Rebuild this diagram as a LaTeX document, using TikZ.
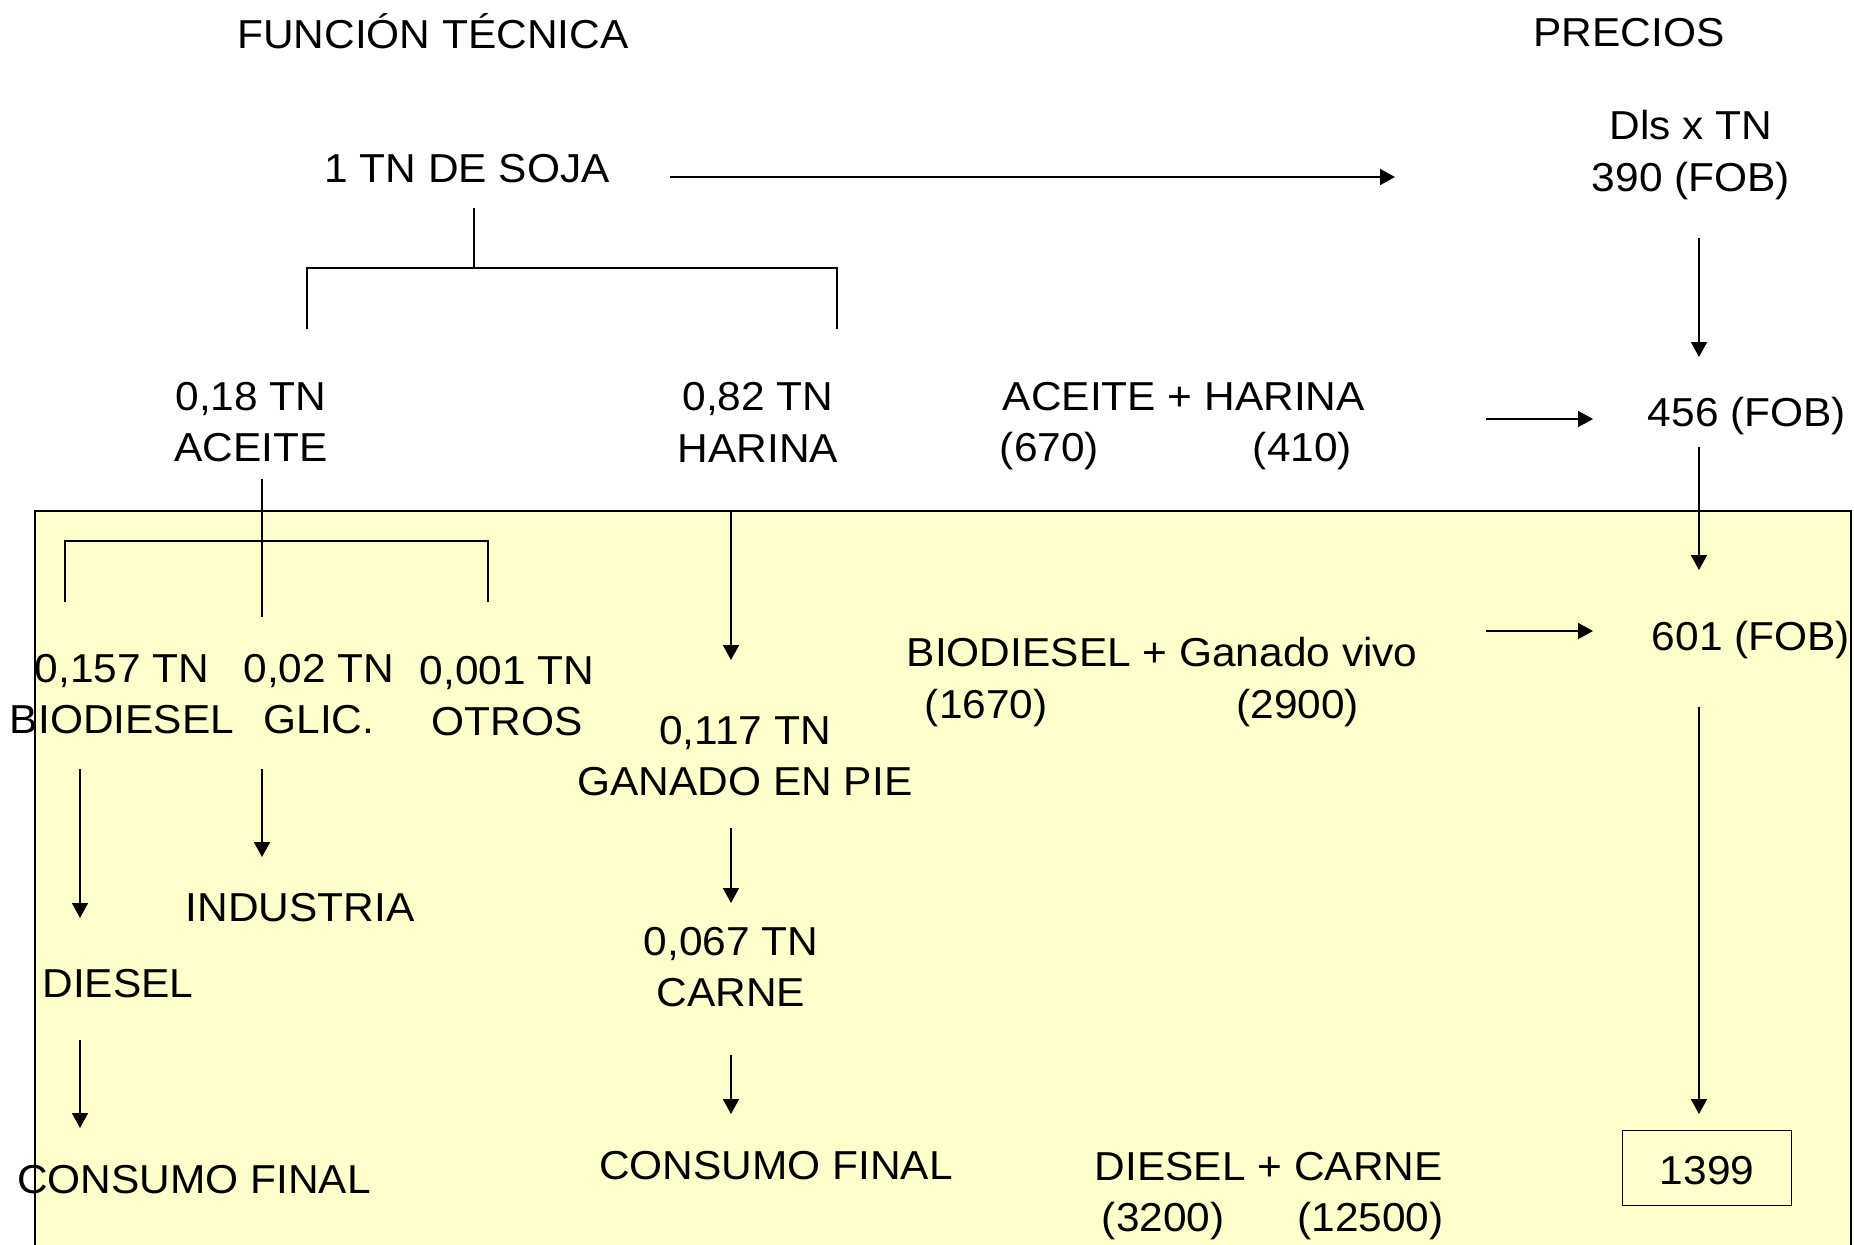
\documentclass[tikz,border=0pt]{standalone}
\usepackage{fontspec}
\setmainfont{Liberation Sans}[FakeStretch=1.05]
\usetikzlibrary{arrows.meta}
\definecolor{boxyellow}{RGB}{255,255,204}
\newcommand{\slide}{\fontsize{23}{29.5}\selectfont}
\tikzset{next/.style={-{Triangle[length=0.3cm, width=0.32cm]}}}
\tikzset{txt/.style={inner sep=0pt, font=\slide, align=center}}
\tikzset{txtl/.style={inner sep=0pt, font=\slide, align=left, anchor=west}}

\begin{document}
\begin{tikzpicture}[x=0.02cm, y=-0.02cm, line width=1pt]
  \useasboundingbox (0,0) rectangle (1854,1245);

  % yellow area
  \fill[boxyellow] (35,511) rectangle (1851,1260);

  % --- headings ---
  \node[txt] (func) at (433,31) {FUNCIÓN TÉCNICA};
  \node[txt] (precios) at (1629,33) {PRECIOS};

  % --- soja and its prices ---
  \node[txt] (soja) at (467,169) {1 TN DE SOJA};
  \node[txt] (dls) at (1691,155) {Dls x TN\\390 (FOB)};
  \coordinate (sojaOut) at (670,177);
  \coordinate (dlsIn) at (1395,177);
  \draw[next] (sojaOut) -- (dlsIn);

  % --- first split ---
  \node[txt] (aceite) at (251,422) {0,18 TN\\ACEITE};
  \node[txt] (harina) at (758,422) {0,82 TN\\HARINA};
  \coordinate (sojaStem) at (474,208);
  \coordinate (splitA) at (474,268);
  \draw (sojaStem) -- (splitA);
  \draw (307,329) -- (307,268) -- (837,268) -- (837,329);

  \node[txtl] (ah) at (999,426) {\hspace*{0.06cm}ACEITE + HARINA\\(670)\hspace{3.08cm}(410)};
  \node[txt] (p456) at (1747,416) {456 (FOB)};
  \coordinate (ahOut) at (1486,419);
  \coordinate (p456In) at (1593,419);
  \draw[next] (ahOut) -- (p456In);
  \coordinate (dlsOut) at (1699,238);
  \coordinate (p456Top) at (1699,357);
  \draw[next] (dlsOut) -- (p456Top);

  % --- second split: aceite ---
  \node[txt] (bio) at (122,694) {0,157 TN\\BIODIESEL};
  \node[txt] (glic) at (319,694) {0,02 TN\\GLIC.};
  \node[txt] (otros) at (507,696) {0,001 TN\\OTROS};
  \coordinate (aceiteStem) at (262,479);
  \coordinate (glicIn) at (262,617);
  \draw (aceiteStem) -- (glicIn);
  \draw (65,602) -- (65,541) -- (488,541) -- (488,602);

  % --- harina to ganado ---
  \node[txt] (ganado) at (745,756) {0,117 TN\\GANADO EN PIE};
  \coordinate (harinaOut) at (731,511);
  \coordinate (ganadoIn) at (731,660);
  \draw[next] (harinaOut) -- (ganadoIn);

  \node[txtl] (bg) at (906,682) {BIODIESEL + Ganado vivo\\\hspace*{0.36cm}(1670)\hspace{3.78cm}(2900)};
  \node[txt] (p601) at (1751,640) {601 (FOB)};
  \coordinate (bgOut) at (1486,631);
  \coordinate (p601In) at (1593,631);
  \draw[next] (bgOut) -- (p601In);
  \coordinate (p456Out) at (1699,447);
  \coordinate (p601Top) at (1699,570);
  \draw[next] (p456Out) -- (p601Top);

  % --- final products ---
  \node[txt] (diesel) at (118,984) {DIESEL};
  \node[txt] (cfA) at (194,1180) {CONSUMO FINAL};
  \node[txt] (industria) at (300,908) {INDUSTRIA};
  \node[txt] (carne) at (731,967) {0,067 TN\\CARNE};
  \node[txt] (cfB) at (776,1166) {CONSUMO FINAL};
  \node[txtl] (dc) at (1094,1196) {DIESEL + CARNE\\\hspace*{0.14cm}(3200)\hspace{1.46cm}(12500)};
  \node[draw, minimum width=3.38cm, minimum height=1.5cm] (p1399) at (1707,1168) {};
  \node[txt] (v1399) at (1707,1171) {1399};

  \coordinate (bioOut) at (80,769);
  \coordinate (dieselIn) at (80,918);
  \draw[next] (bioOut) -- (dieselIn);
  \coordinate (dieselOut) at (80,1040);
  \coordinate (cfAIn) at (80,1128);
  \draw[next] (dieselOut) -- (cfAIn);
  \coordinate (glicOut) at (262,769);
  \coordinate (industriaIn) at (262,857);
  \draw[next] (glicOut) -- (industriaIn);
  \coordinate (ganadoOut) at (731,828);
  \coordinate (carneIn) at (731,903);
  \draw[next] (ganadoOut) -- (carneIn);
  \coordinate (carneOut) at (731,1055);
  \coordinate (cfBIn) at (731,1114);
  \draw[next] (carneOut) -- (cfBIn);
  \coordinate (p601Out) at (1699,707);
  \coordinate (p1399In) at (1699,1114);
  \draw[next] (p601Out) -- (p1399In);

  % border over the texts
  \draw (35,1260) -- (35,511) -- (1851,511) -- (1851,1260);
\end{tikzpicture}
\end{document}
